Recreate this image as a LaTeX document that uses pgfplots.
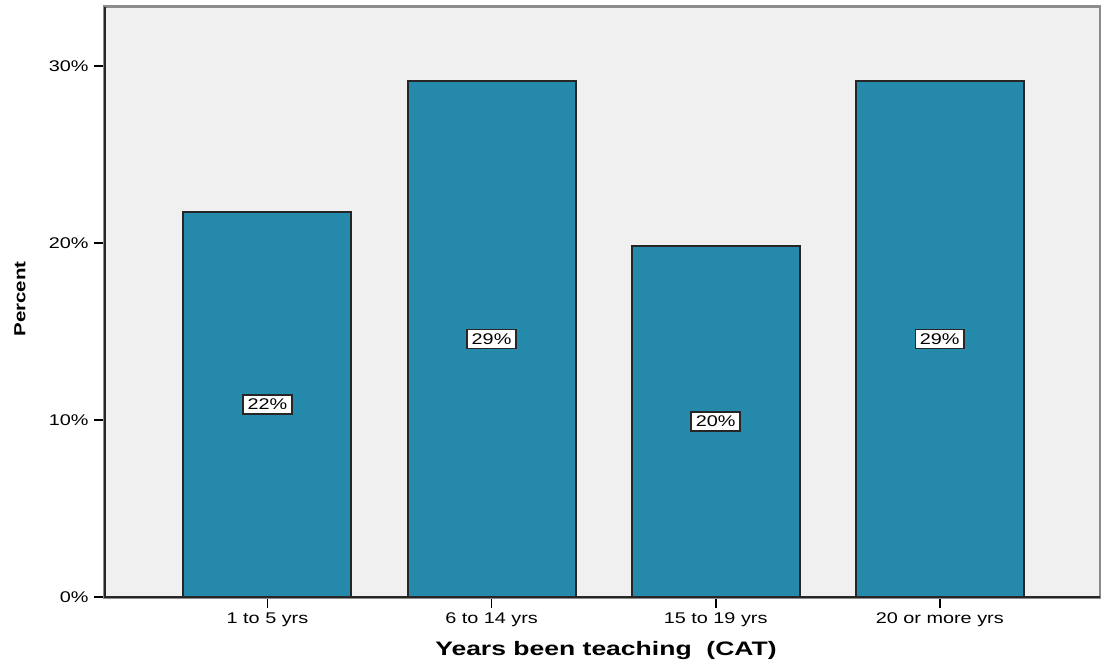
\documentclass[border=0pt]{standalone}
\usepackage{pgfplots}
\pgfplotsset{compat=1.18}
\usepackage{fontspec}
\setmainfont{Liberation Sans}
\newfontfamily\spss[FakeStretch=1.28]{Liberation Sans}
\newfontfamily\spsslab[FakeStretch=1.36]{Liberation Sans}
\definecolor{barcol}{RGB}{37,137,171}
\definecolor{bgcol}{RGB}{240,240,240}
\definecolor{framecol}{RGB}{140,140,140}
\begin{document}
\begin{tikzpicture}
\begin{axis}[
  scale only axis,
  width=995pt, height=590pt,
  at={(0pt,0pt)}, anchor=south west,
  xmin=-0.725, xmax=3.715,
  ymin=0, ymax=33.33,
  axis background/.style={fill=bgcol},
  axis line style={draw=framecol, line width=3pt},
  xtick={0,1,2,3},
  xticklabels={1 to 5 yrs,6 to 14 yrs,15 to 19 yrs,20 or more yrs},
  ytick={0,10,20,30},
  yticklabels={0\%,10\%,20\%,30\%},
  tick align=outside,
  major tick length=11pt,
  tick style={black, line width=1.8pt},
  xtick pos=bottom, ytick pos=left,
  ticklabel style={font=\spss\fontsize{15.5}{18}\selectfont, text=black},
  yticklabel style={xshift=-2pt},
  xticklabel style={yshift=-1pt},
  xlabel={\spsslab\fontsize{19.5}{22}\selectfont\bfseries Years been teaching \ (CAT)},
  xlabel style={at={(axis description cs:0.5035,0)}, anchor=north, yshift=-41pt, text=black},
  ylabel={\spss\fontsize{16}{18}\selectfont\bfseries Percent},
  ylabel style={at={(axis description cs:0,0.505)}, anchor=south, yshift=76pt, text=black},
  clip=false,
]
\addplot[ybar, bar width=168pt, fill=barcol, draw=black!85, line width=2pt,
  visualization depends on={\thisrow{y} \as \barval},
  nodes near coords,
  point meta=explicit symbolic,
  every node near coord/.append style={anchor=center, yshift=-\barval*8.85pt,
    fill=white, draw=black!85, line width=1.7pt, inner xsep=4.5pt, inner ysep=4pt,
    font=\spss\fontsize{15.5}{18}\selectfont, text=black},
] table[x=x, y=y, meta=lab] {
x y lab
0 21.77 22\%
1 29.15 29\%
2 19.83 20\%
3 29.15 29\%
};
\draw[black!85, line width=2.4pt] (rel axis cs:0,1) -- (rel axis cs:0,0) -- (rel axis cs:1,0);
\end{axis}
\pgfresetboundingbox
\useasboundingbox (-105pt,-65pt) rectangle (996pt,597pt);
\end{tikzpicture}
\end{document}
